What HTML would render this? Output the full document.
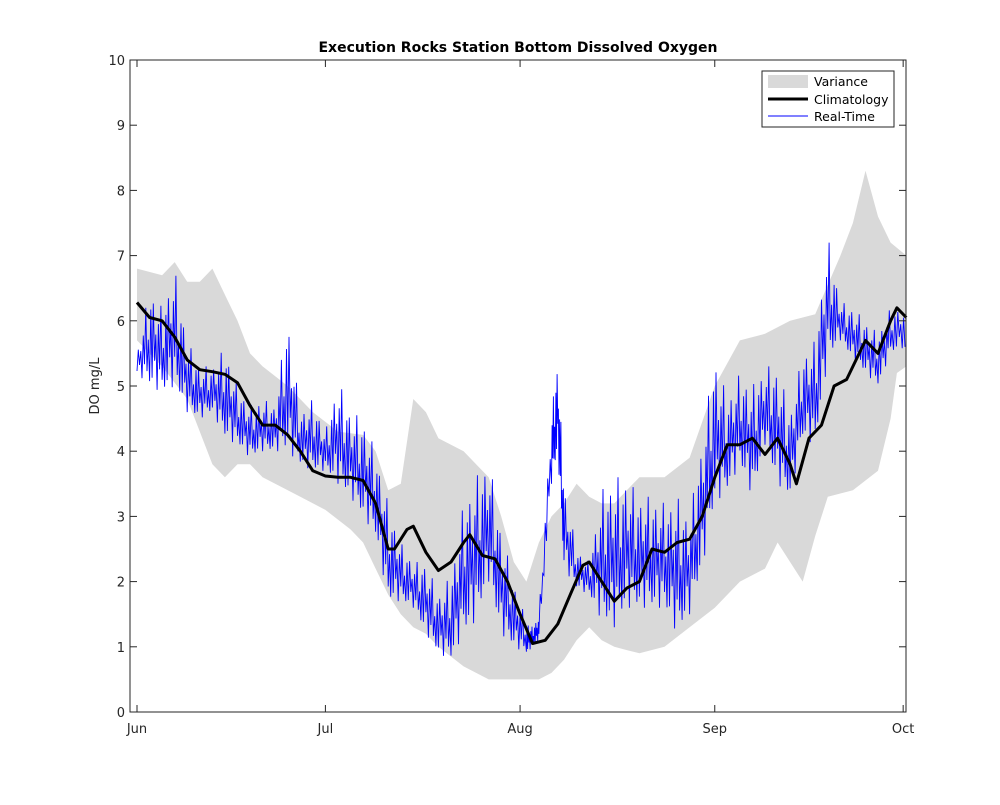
<!DOCTYPE html>
<html><head><meta charset="utf-8"><style>
body{margin:0;background:#fff;}
svg text{font-family:"DejaVu Sans","Liberation Sans",sans-serif;}
</style></head><body>
<svg id="chart" width="1000" height="800" xmlns="http://www.w3.org/2000/svg">
<rect width="1000" height="800" fill="#fff"/>
<g id="plot"></g>
<rect x="130" y="60" width="776" height="652" fill="none" stroke="#262626" stroke-width="1"/>
<g id="axes"></g>
<text x="518" y="52" text-anchor="middle" font-size="14" font-weight="bold" fill="#000">Execution Rocks Station Bottom Dissolved Oxygen</text>
<text transform="translate(99,386) rotate(-90)" text-anchor="middle" font-size="13" fill="#262626">DO mg/L</text>
<g>
<rect x="762" y="71" width="132" height="56" fill="#fff" stroke="#262626" stroke-width="1"/>
<rect x="768" y="75" width="40" height="13" fill="#d9d9d9"/>
<text x="814" y="86" font-size="12.5" fill="#000">Variance</text>
<line x1="768" y1="99" x2="808" y2="99" stroke="#000" stroke-width="3"/>
<text x="814" y="104" font-size="12.5" fill="#000">Climatology</text>
<line x1="768" y1="116" x2="808" y2="116" stroke="#0000ff" stroke-width="1"/>
<text x="814" y="121" font-size="12.5" fill="#000">Real-Time</text>
</g>
</svg>
<script>
const monthLabels=["Jun","Jul","Aug","Sep","Oct"];
const monthDays=[0,30,61,92,122];
const yTicks=[0,1,2,3,4,5,6,7,8,9,10];
const climDays=[0,2,4,6,8,10,12,14,16,18,20,22,24,26,28,30,32,34,36,38,40,41,43,44,46,48,50,52,53,55,57,59,61,63,65,67,69,71,72,74,76,78,80,82,84,86,88,90,92,94,96,98,100,102,104,105,107,109,111,113,115,116,118,120,121,122.5];
const climVals=[6.28,6.05,6.0,5.75,5.4,5.25,5.22,5.18,5.05,4.7,4.4,4.4,4.25,4.0,3.7,3.62,3.6,3.6,3.55,3.2,2.5,2.5,2.8,2.85,2.45,2.17,2.3,2.6,2.72,2.4,2.35,2.0,1.5,1.05,1.1,1.35,1.8,2.25,2.3,2.0,1.7,1.9,2.0,2.5,2.45,2.6,2.65,3.0,3.6,4.1,4.1,4.2,3.95,4.2,3.8,3.5,4.2,4.4,5.0,5.1,5.5,5.7,5.5,6.0,6.2,6.05];
const varUpDays=[0,4,6,8,10,12,14,16,18,20,24,28,32,36,38,40,42,44,46,48,50,52,54,56,58,60,62,64,66,68,70,72,74,76,78,80,84,88,92,96,100,104,108,112,114,116,118,120,122.5];
const varUpVals=[6.8,6.7,6.9,6.6,6.6,6.8,6.4,6.0,5.5,5.3,5.0,4.6,4.3,4.25,4.0,3.4,3.5,4.8,4.6,4.2,4.1,4.0,3.8,3.6,3.0,2.3,2.0,2.6,3.0,3.2,3.5,3.3,3.2,3.2,3.4,3.6,3.6,3.9,5.0,5.7,5.8,6.0,6.1,7.0,7.5,8.3,7.6,7.2,7.0];
const varLoDays=[0,4,8,10,12,14,16,18,20,22,26,30,34,36,38,40,42,44,46,48,52,56,60,64,66,68,70,72,74,76,78,80,84,88,92,96,100,102,104,106,108,110,114,118,120,121,122.5];
const varLoVals=[5.7,5.3,4.8,4.3,3.8,3.6,3.8,3.8,3.6,3.5,3.3,3.1,2.8,2.6,2.2,1.8,1.5,1.3,1.2,1.0,0.7,0.5,0.5,0.5,0.6,0.8,1.1,1.3,1.1,1.0,0.95,0.9,1.0,1.3,1.6,2.0,2.2,2.6,2.3,2.0,2.7,3.3,3.4,3.7,4.5,5.2,5.3];
const rtDays=[0,2,4,6,8,10,12,14,16,18,20,22,24,26,28,30,32,34,36,38,40,42,44,46,48,50,52,54,56,58,60,62,63,64,66,67,68,70,72,74,76,78,80,82,84,86,88,90,92,94,96,98,100,102,104,106,108,110,112,114,116,118,120,122.3];
const rtLow=[5.2,5.0,4.9,5.0,4.6,4.5,4.6,4.2,4.1,3.9,4.0,4.0,4.0,3.8,3.7,3.7,3.5,3.3,3.0,2.7,1.7,1.7,1.6,1.2,0.9,0.8,1.2,1.4,2.0,1.2,1.0,0.9,1.0,1.1,3.5,4.0,2.2,1.9,1.8,1.4,1.3,1.6,1.6,1.6,1.6,1.2,1.5,2.2,3.2,3.4,3.8,3.3,4.1,3.5,3.3,4.2,4.1,5.4,5.7,5.4,5.2,5.0,5.5,5.6];
const rtHigh=[5.5,6.5,6.2,6.8,5.7,5.3,5.3,5.6,5.0,4.7,4.8,4.7,6.1,4.6,4.8,4.3,5.1,4.6,4.5,4.0,3.2,2.6,2.3,2.3,1.8,2.1,3.2,3.6,3.9,2.8,2.0,1.4,1.3,1.5,4.6,5.4,3.5,2.5,2.3,3.4,3.6,3.6,3.3,3.3,3.2,3.3,3.0,4.2,5.5,4.8,5.2,5.0,5.3,5.3,4.6,5.5,5.7,7.3,6.3,6.2,6.0,5.8,6.2,6.2];

const NS="http://www.w3.org/2000/svg";
const X0=137,XK=6.28,Y0=712,YK=65.2;
function xS(d){return X0+d*XK;}
function yS(v){return Y0-v*YK;}
function interp(ds,vs,d){
  if(d<=ds[0])return vs[0];
  for(let i=1;i<ds.length;i++){if(d<=ds[i]){const t=(d-ds[i-1])/(ds[i]-ds[i-1]);return vs[i-1]+t*(vs[i]-vs[i-1]);}}
  return vs[vs.length-1];
}
const plot=document.getElementById('plot');
const axes=document.getElementById('axes');
function mk(tag,attrs,parent){const e=document.createElementNS(NS,tag);for(const k in attrs)e.setAttribute(k,attrs[k]);parent.appendChild(e);return e;}

// variance band
let pts=[];
varUpDays.forEach((d,i)=>pts.push(xS(d).toFixed(1)+","+yS(varUpVals[i]).toFixed(1)));
for(let i=varLoDays.length-1;i>=0;i--)pts.push(xS(varLoDays[i]).toFixed(1)+","+yS(varLoVals[i]).toFixed(1));
const band=mk('polygon',{points:pts.join(' '),fill:'#d9d9d9',stroke:'none'},plot);



// real-time: zigzag between low/high envelope
const zig=[0.1,0.9,0.3,0.6,0.0,0.75,0.25,1.0,0.15,0.5,0.05,0.8];
let rp=[];const sub=10;
for(let i=0;i<rtDays.length-1;i++){
  for(let s=0;s<sub;s++){
    const d=rtDays[i]+(rtDays[i+1]-rtDays[i])*s/sub;
    const k=i*sub+s;
    const lo=interp(rtDays,rtLow,d),hi=interp(rtDays,rtHigh,d);
    const v=lo+(hi-lo)*zig[k%zig.length];
    rp.push(xS(d).toFixed(1)+","+yS(v).toFixed(1));
  }
}
rp.push(xS(rtDays[rtDays.length-1]).toFixed(1)+","+yS(rtLow[rtLow.length-1]).toFixed(1));
const rt=mk('polyline',{points:rp.join(' '),fill:'none',stroke:'#0000ff','stroke-width':0.9},plot);



// climatology
const cp=climDays.map((d,i)=>xS(d).toFixed(1)+","+yS(climVals[i]).toFixed(1));
const cl=mk('polyline',{points:cp.join(' '),fill:'none',stroke:'#000','stroke-width':3,'stroke-linejoin':'round'},plot);



// y ticks
yTicks.forEach(v=>{
  const y=yS(v);
  const t1=mk('line',{x1:130,y1:y,x2:137,y2:y,stroke:'#262626'},axes);
  
  
  const t2=mk('line',{x1:899,y1:y,x2:906,y2:y,stroke:'#262626'},axes);
  
  
  const tx=mk('text',{x:125,y:y+5,'text-anchor':'end','font-size':13,fill:'#262626'},axes);
  tx.textContent=v;
  
  
});
// x ticks
monthDays.forEach((d,i)=>{
  const x=xS(d);
  const t1=mk('line',{x1:x,y1:712,x2:x,y2:705,stroke:'#262626'},axes);
  
  
  const t2=mk('line',{x1:x,y1:60,x2:x,y2:67,stroke:'#262626'},axes);
  
  
  const tx=mk('text',{x:x,y:733,'text-anchor':'middle','font-size':13,fill:'#262626'},axes);
  tx.textContent=monthLabels[i];
  
  
});
</script>
</body></html>
